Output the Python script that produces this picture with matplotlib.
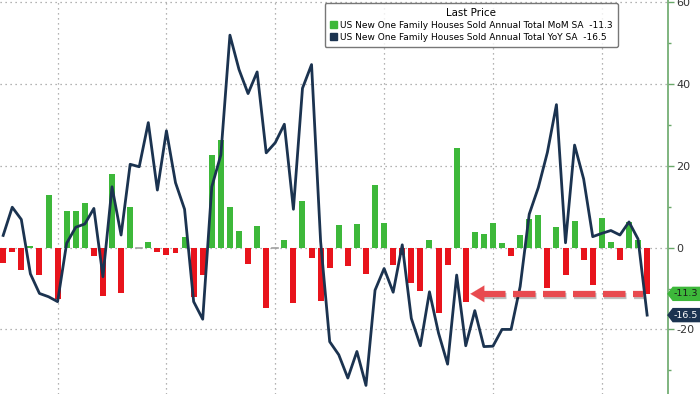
import numpy as np
import matplotlib
matplotlib.use("Agg")
import matplotlib.pyplot as plt
import matplotlib.patheffects as pe
from matplotlib.patches import Patch, Polygon
from matplotlib.ticker import MultipleLocator

# Monthly values (72 months)
mom = [-3.8, -1.1, -5.5, 0.3, -6.8, 13.0, -12.6, 9.0, 8.9, 10.9,
       -2.0, -11.8, 18.0, -11.0, 9.9, 0.0, 1.5, -1.1, -1.7, -1.4,
       2.6, -12.0, -6.7, 22.6, 26.3, 9.9, 4.1, -4.0, 5.3, -14.8,
       0.0, 2.0, -13.5, 11.3, -2.5, -13.0, -4.9, 5.5, -4.6, 5.9,
       -6.4, 15.4, 6.0, -4.2, -1.8, -8.6, -10.6, 1.9, -16.1, -4.2,
       24.3, -13.4, 3.9, 3.3, 6.1, 1.1, -2.0, 3.1, 6.9, 7.9,
       -9.9, 5.1, -6.7, 6.6, -3.0, -9.1, 7.2, 1.5, -3.0, 6.4, 2.0, -11.3]
yoy = [3.0, 9.9, 6.9, -6.4, -11.2, -12.0, -13.2, 1.1, 5.0, 5.8,
       9.6, -7.1, 14.9, 3.1, 20.4, 19.8, 30.6, 14.1, 28.6, 15.9,
       9.4, -13.2, -17.5, 14.9, 22.7, 52.0, 43.6, 37.7, 43.0, 23.2,
       25.7, 30.2, 9.4, 39.0, 44.8, 1.5, -23.0, -26.2, -31.9, -25.4,
       -33.7, -10.4, -5.1, -10.9, 0.7, -17.3, -24.0, -10.8, -20.9, -28.5,
       -6.7, -24.0, -15.4, -24.2, -24.1, -20.0, -20.0, -9.5, 8.2, 14.7,
       23.3, 35.0, 1.2, 25.1, 16.8, 2.7, 3.5, 4.2, 3.1, 6.3, 2.1, -16.5]
year_starts = [6, 18, 30, 42, 54, 66]   # month index of the vertical gridlines
y_ticks = [-20, 0, 20, 40, 60]
mom_label = "US New One Family Houses Sold Annual Total MoM SA  -11.3"
yoy_label = "US New One Family Houses Sold Annual Total YoY SA  -16.5"

green = "#3db83a"
red = "#e8141c"
navy = "#1b3350"
axis_green = "#6aa86a"

x = np.arange(len(mom))

W, H = 700, 394
fig = plt.figure(figsize=(W / 100, H / 100), dpi=100)
ax = fig.add_axes([0, 0, 668 / W, 1])

cols = [green if v > 0 else (red if v < 0 else "#b0b0b0") for v in mom]
ax.bar(x, mom, width=0.66, color=cols, zorder=2)
# zero months show as a small grey dash
for i, v in enumerate(mom):
    if v == 0:
        ax.plot([i - 0.33, i + 0.33], [0, 0], color="#a0a0a0", lw=1.2, zorder=2)

ax.plot(x, yoy, color=navy, lw=2.0, zorder=4)

# red dashed arrow pointing at the last MoM value
last = mom[-1]
ax.plot([52.9, 70.5], [last, last], color="#e84a4f", lw=4.5, ls=(0, (3.6, 1.2)),
        solid_capstyle="butt", zorder=5,
        path_effects=[pe.SimpleLineShadow(offset=(1, -1.5), alpha=0.25), pe.Normal()])
ax.annotate("", xy=(51.5, last), xytext=(53.8, last),
            arrowprops=dict(arrowstyle="-|>,head_length=1.0,head_width=0.6",
                            color="#e84a4f", lw=0.1, shrinkA=0, shrinkB=0),
            zorder=5)

ax.set_xlim(-0.35, 73.3)
ax.set_ylim(-35.8, 60.6)

ax.set_xticks(year_starts)
ax.set_yticks(y_ticks)
ax.yaxis.set_minor_locator(MultipleLocator(10))
ax.grid(True, which="major", color="#9a9a9a", ls=(0, (1, 3)), lw=0.9, zorder=0)
ax.tick_params(axis="x", length=0, labelbottom=False)
ax.yaxis.tick_right()
ax.tick_params(axis="y", which="major", length=4, width=1, color=axis_green,
               labelsize=8, labelcolor="#333333", pad=2)
ax.tick_params(axis="y", which="minor", length=2.5, width=1, color=axis_green)
ax.set_yticklabels([str(t) for t in y_ticks])

for s in ["top", "left", "bottom"]:
    ax.spines[s].set_visible(False)
ax.spines["right"].set_color(axis_green)
ax.spines["right"].set_linewidth(1.2)


# last value tags on the right axis (pointer shaped boxes)
def value_tag(val, fc, tc):
    py = ax.transData.transform((0, val))[1]
    x0, x1, x2 = 668, 673, 700
    h = 6.5
    pts = [(x0, py), (x1, py + h), (x2, py + h), (x2, py - h), (x1, py - h)]
    pts = [(px / W, pyy / H) for px, pyy in pts]
    fig.patches.append(Polygon(pts, closed=True, fc=fc, ec=fc,
                               transform=fig.transFigure, zorder=6))
    fig.text(673.5 / W, py / H, f"{val:.1f}", fontsize=6.8, color=tc,
             va="center", ha="left", zorder=7)


value_tag(mom[-1], green, "#1a1a1a")
value_tag(yoy[-1], navy, "white")

handles = [Patch(facecolor=green, edgecolor=green),
           Patch(facecolor=navy, edgecolor=navy)]
leg = ax.legend(handles, [mom_label, yoy_label], title="Last Price",
                loc="upper left", bbox_to_anchor=(0.486, 0.993), fontsize=6.5,
                title_fontsize=7.4, frameon=True, fancybox=True,
                handlelength=0.8, handleheight=0.8, handletextpad=0.4,
                borderpad=0.55, labelspacing=0.35, borderaxespad=0)
leg.get_frame().set_edgecolor("#555555")
leg.get_frame().set_linewidth(1.0)
leg.set_zorder(10)

fig.savefig("out.png", dpi=100)
